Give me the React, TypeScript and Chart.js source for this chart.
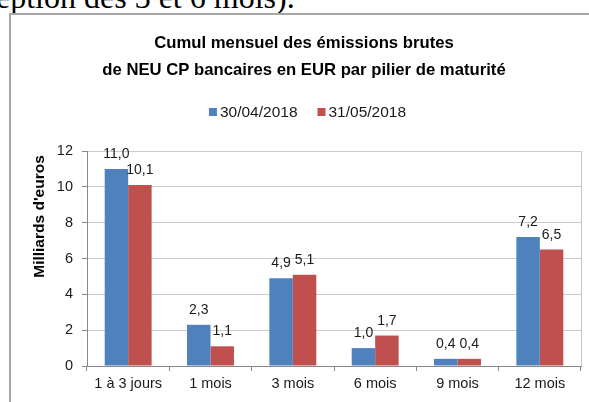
import React, { useEffect, useRef } from "react";
import { Chart, registerables } from "chart.js";
Chart.register(...registerables);

const categories = ["1 à 3 jours", "1 mois", "3 mois", "6 mois", "9 mois", "12 mois"];
const series1Label = "30/04/2018";
const series2Label = "31/05/2018";
const series1 = [11.0, 2.3, 4.9, 1.0, 0.4, 7.2];
const series2 = [10.1, 1.1, 5.1, 1.7, 0.4, 6.5];
const yMin = 0;
const yMax = 12;
const yStep = 2;
const titleLines = [
  "Cumul mensuel des émissions brutes",
  "de NEU CP bancaires en EUR par pilier de maturité",
];
const yAxisTitle = "Milliards d'euros";
const topText = "eption des 3 et 6 mois).";

const FONT = "'Liberation Sans', Arial, sans-serif";
const BLUE = "#4f81bd";
const RED = "#c0504d";

const overlay = {
  id: "overlay",
  afterDatasetsDraw(chart: any) {
    const ctx = chart.ctx;
    ctx.save();
    ctx.font = `14px ${FONT}`;
    ctx.fillStyle = "#1a1a1a";
    ctx.textAlign = "center";
    ctx.textBaseline = "alphabetic";
    chart.data.datasets.forEach((ds: any, i: number) => {
      const meta = chart.getDatasetMeta(i);
      meta.data.forEach((el: any, j: number) => {
        const v = ds.data[j] as number;
        ctx.fillText(v.toFixed(1).replace(".", ","), el.x, el.y - 11);
      });
    });
    ctx.restore();
  },
  afterDraw(chart: any) {
    const ctx = chart.ctx;
    const a = chart.chartArea;
    ctx.save();
    // plot area right border
    ctx.strokeStyle = "#c8c8c8";
    ctx.lineWidth = 1;
    ctx.beginPath();
    ctx.moveTo(Math.round(a.right) + 0.5, a.top);
    ctx.lineTo(Math.round(a.right) + 0.5, a.bottom);
    ctx.stroke();

    // title
    ctx.fillStyle = "#000";
    ctx.font = `bold 16.7px ${FONT}`;
    ctx.textAlign = "center";
    ctx.textBaseline = "alphabetic";
    ctx.fillText(titleLines[0], 293, 33);
    ctx.fillText(titleLines[1], 293, 60);

    // legend
    ctx.font = `15.5px ${FONT}`;
    const items = chart.data.datasets.map((d: any) => ({
      label: d.label,
      color: d.backgroundColor,
      w: ctx.measureText(d.label).width,
    }));
    const box = 8, gap = 3, spacing = 20;
    const total = items.reduce((s: number, it: any) => s + box + gap + it.w, 0) + spacing * (items.length - 1);
    let x = 296.5 - total / 2;
    const cy = 97;
    ctx.textAlign = "left";
    ctx.textBaseline = "middle";
    items.forEach((it: any) => {
      ctx.fillStyle = it.color;
      ctx.fillRect(x, cy - box / 2, box, box);
      ctx.fillStyle = "#1a1a1a";
      ctx.fillText(it.label, x + box + gap, cy + 1);
      x += box + gap + it.w + spacing;
    });

    // y axis title
    ctx.save();
    ctx.translate(29, 201.5);
    ctx.rotate(-Math.PI / 2);
    ctx.font = `bold 15.5px ${FONT}`;
    ctx.fillStyle = "#000";
    ctx.textAlign = "center";
    ctx.textBaseline = "middle";
    ctx.fillText(yAxisTitle, 0, 0);
    ctx.restore();

    ctx.restore();
  },
};

export default function App() {
  const ref = useRef<HTMLCanvasElement>(null);
  useEffect(() => {
    const chart = new Chart(ref.current as HTMLCanvasElement, {
      type: "bar",
      data: {
        labels: categories,
        datasets: [
          { label: series1Label, data: series1, backgroundColor: BLUE, borderWidth: 0 },
          { label: series2Label, data: series2, backgroundColor: RED, borderWidth: 0 },
        ],
      },
      options: {
        responsive: false,
        animation: false,
        devicePixelRatio: 1,
        layout: { padding: { top: 136, right: 8, left: 0, bottom: 0 } },
        datasets: { bar: { categoryPercentage: 0.57, barPercentage: 1.0 } },
        plugins: {
          legend: { display: false },
          title: { display: false },
          tooltip: { enabled: false },
        },
        scales: {
          x: {
            afterFit: (s: any) => { s.height = 36; },
            grid: {
              display: true,
              drawOnChartArea: false,
              drawTicks: true,
              tickLength: 5,
              offset: true,
              tickColor: "#888",
            },
            border: { color: "#888", width: 1 },
            ticks: { color: "#1a1a1a", font: { family: FONT, size: 14.5 }, padding: 4, maxRotation: 0 },
          },
          y: {
            min: yMin,
            max: yMax,
            afterFit: (s: any) => { s.width = 76; },
            ticks: { stepSize: yStep, color: "#1a1a1a", font: { family: FONT, size: 14.5 }, padding: 9 },
            grid: { color: "#cccccc", tickColor: "#888", tickLength: 5 },
            border: { color: "#888", width: 1 },
          },
        },
      },
      plugins: [overlay],
    });
    return () => chart.destroy();
  }, []);

  return (
    <div style={{ position: "fixed", left: 0, top: 0, width: 589, height: 402, overflow: "hidden", background: "#fff" }}>
      <div
        style={{
          position: "absolute",
          left: -4,
          top: -19,
          fontFamily: "'Liberation Serif', serif",
          fontSize: 32,
          lineHeight: "32px",
          whiteSpace: "nowrap",
          color: "#000",
        }}
      >
        {topText}
      </div>
      <div
        style={{
          position: "absolute",
          left: 9,
          top: 13,
          width: 700,
          height: 500,
          borderTop: "2px solid #a6a6a6",
          borderLeft: "2px solid #a6a6a6",
        }}
      />
      <div style={{ position: "absolute", left: 11, top: 15, width: 578, height: 387 }}>
        <canvas ref={ref} width={578} height={387} style={{ width: 578, height: 387, display: "block" }} />
      </div>
    </div>
  );
}
